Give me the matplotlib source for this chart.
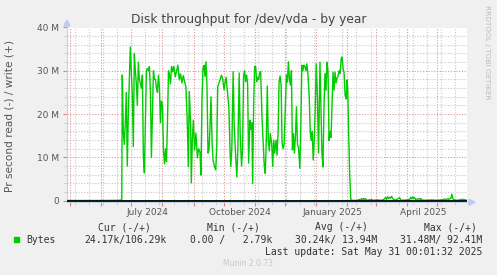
import numpy as np
import pandas as pd
import matplotlib
matplotlib.use('Agg')
import matplotlib.pyplot as plt
import matplotlib.dates as mdates
import matplotlib.ticker as mticker
from matplotlib.patches import Polygon, Rectangle

# days counted from 2024-05-01, values in MB/s
start = '2024-05-01'
write_days = [
    -3, 30, 50, 51.5,
    52, 53, 54, 55, 56, 57, 58, 60, 61, 62, 63, 64, 65, 66, 67, 68, 69, 70,
    71, 72, 73, 74, 75, 76, 77, 78, 79, 80, 81, 82, 83, 84, 85, 86, 87, 88,
    89, 90, 91, 92, 93, 94, 95, 96, 97, 98, 99, 100, 101,
    102, 103.3, 104.7, 106, 107.3, 108.7, 110, 111.3, 112.7, 114, 115.3,
    116.7, 117.7, 118.7, 120, 120.7, 121.7, 122.7, 124, 125.3, 126.7, 128,
    129.3, 130.3, 131.3, 132.3, 133.3, 134.3, 135.3, 136.3, 137.3, 138.3,
    139.3, 140.3, 141.3, 142.3, 143.7, 145, 146, 147, 148, 149.3, 150.7,
    152, 153.3, 154.3, 155.3, 156.7, 158, 159.3,
    160, 161, 162.3, 163.3, 165, 166, 167, 168.3, 169.3, 170.7, 171.7,
    172.7, 173.7, 174.7, 175.7, 176.7, 177.7, 179, 180, 181, 181.7, 182.7,
    183.7, 184.7, 185.7, 186.7, 187.7, 188.7, 189.7, 191, 192.3, 193.3,
    194.3, 195.3, 196.3, 197.3, 198.3, 199.3, 200.7, 201.7, 202.7, 203.7,
    205, 206, 207, 208, 209, 210, 211, 212, 213,
    214.3, 215.3, 216.3, 217.3, 218.3, 219.3, 220.3, 221.3, 222.3, 223.3,
    224.3, 225.3, 226.3, 227.3, 228.7, 229.7, 230.7, 231.7, 232.7, 233.7,
    234.7, 235.7, 236.7, 238, 239, 240, 241, 242, 243, 244, 245, 246,
    247.3, 248.7, 249.7, 250.7, 251.7, 252.7, 253.7, 254.7, 255.7, 256.7,
    257.7, 258.7, 259.7, 260.7, 261.7, 262.7, 263.7, 264.7, 265.7, 266.7,
    267.7, 268.7, 269.7,
    270, 270.7, 271.7, 272.7, 273.7, 274.7, 275.7, 276.3, 277.3, 278.3, 279.3,
    280, 285, 288, 289, 290, 291, 292, 293, 294, 295, 298, 300, 302, 305,
    310, 313, 314, 315, 316, 317, 318, 319, 320, 321, 322, 324, 328, 329,
    332, 338, 339, 340, 341, 342, 343, 344, 347, 348, 349, 350, 353, 360,
    365, 372, 373, 374, 376, 377, 379, 380, 381, 382, 385, 390, 392, 393, 395,
]
write_mb = [
    0.05, 0.05, 0.1, 0.3,
    29, 16, 13, 18, 25, 8, 20, 35.5, 30, 24, 12.5, 34, 30, 27, 22, 32, 28, 27,
    26, 29, 10, 6.4, 18, 30, 30.5, 30, 31, 25, 10, 20, 30, 28, 28, 26, 25, 29,
    26, 18, 23, 22, 11.7, 8.5, 12, 9, 18.6, 30, 29, 27, 31,
    29.8, 31, 28.6, 30, 31.3, 27.9, 29.3, 27.2, 28.9, 27.5, 26.3,
    17.9, 7.9, 25.2, 17.6, 4.1, 14, 18.6, 11.7, 15.6, 9.9, 12,
    11.2, 5.9, 23.3, 30.6, 31.3, 28.7, 32.1, 26.4, 11, 11.7,
    17.1, 24, 13.9, 9.4, 7.9, 7.1, 12.5, 26.3, 27, 28, 29,
    28, 25.6, 27.4, 28.5, 25, 21.7, 11,
    7.9, 12, 29.8, 18, 9.4, 5.5, 12, 29.5, 15.5, 8, 12,
    29, 30, 27.5, 29, 27, 8.7, 18.6, 16.5, 18, 4, 22,
    31, 31, 27.5, 28.5, 28, 29.5, 29.8, 19.4, 13.1, 8,
    6.3, 14, 26.5, 14, 11.5, 15.5, 13, 7.9, 14, 11,
    14, 10.5, 15.5, 27.5, 28.8, 26.8, 13.5, 12, 13,
    21.7, 29, 27.4, 32.1, 28, 26.7, 30, 11.7, 15.5, 11,
    15, 21.7, 13, 12.3, 7.5, 18, 31.3, 30, 31.3, 31,
    30, 31.6, 29.4, 24, 16, 13.9, 16, 9.4, 13.9, 21.7, 31.6, 25.5,
    11, 32, 21.7, 10.8, 7.8, 21.7, 29.4, 25.5, 32, 30,
    13.9, 16, 14.6, 22.5, 29.7, 25.5, 29.7, 27.2, 28.3, 28.7,
    30, 29.4, 32.4,
    32.9, 33.2, 30.6, 29.5, 24.4, 23.5, 27.9, 26, 15, 6, 0.5,
    0.1, 0.05, 0.3, 0.1, 0.5, 0.2, 0.5, 0.2, 0.5, 0.1, 0.2, 0.3, 0.1, 0.2,
    0.1, 0.4, 0.8, 0.3, 0.9, 0.5, 0.8, 0.6, 1.0, 0.5, 0.3, 0.1, 0.7, 0.2,
    0.1, 0.3, 0.8, 0.4, 0.9, 0.5, 0.7, 0.2, 0.5, 0.3, 0.5, 0.2, 0.1, 0.2,
    0.1, 0.3, 0.4, 0.2, 0.5, 0.3, 0.6, 1.5, 0.4, 0.2, 0.1, 0.3, 0.3, 0.2, 0.1,
]
read_days = [-3, 59, 60, 61, 107, 108, 109, 138, 139, 140, 163, 164, 165,
             197, 198, 199, 212, 213, 214, 234, 235, 236, 246, 247, 248,
             259, 260, 261, 339, 340, 341, 395]
read_mb = [0, 0, -0.4, 0, 0, -0.5, 0, 0, -0.3, 0, 0, -0.3, 0,
           0, -0.3, 0, 0, -0.3, 0, 0, -0.3, 0, 0, -0.3, 0,
           0, -0.3, 0, 0, -0.4, 0, 0]

y_ticks = [0, 10, 20, 30, 40]
y_labels = ['0', '10 M', '20 M', '30 M', '40 M']
month_labels = ['July 2024', 'October 2024', 'January 2025', 'April 2025']
label_dates = ['2024-07-17', '2024-10-17', '2025-01-17', '2025-04-17']
legend_heads = ['Cur (-/+)', 'Min (-/+)', 'Avg (-/+)', 'Max (-/+)']
legend_vals = ['24.17k/106.29k', '0.00 /   2.79k', '30.24k/ 13.94M', '31.48M/ 92.41M']

W, H = 497, 275
GREEN = '#00CC00'
TXT = '#555555'


def fx(px):
    return px / W


def fy(py):
    return 1 - py / H


fig = plt.figure(figsize=(W / 100, H / 100), dpi=100, facecolor='#F0F0F0')
ax = fig.add_axes([fx(67), fy(202), 400 / W, (202 - 27.5) / H])
ax.set_facecolor('white')

t0 = mdates.datestr2num(start)
ax.plot(t0 + np.array(write_days), write_mb, color=GREEN, lw=1.0, zorder=3)
ax.plot(t0 + np.array(read_days), read_mb, color=GREEN, lw=1.0, zorder=3)
ax.axhline(0, color='black', lw=1.2, zorder=4)

ax.set_xlim(mdates.datestr2num('2024-04-28'), mdates.datestr2num('2025-05-31'))
ax.set_ylim(-0.3, 40)

# grid: months red, two-week steps grey
ax.xaxis.set_major_locator(mdates.MonthLocator())
minor_dates = pd.date_range('2024-04-22', '2025-06-01', freq='14D')
ax.xaxis.set_minor_locator(mticker.FixedLocator(mdates.date2num(minor_dates.to_pydatetime())))
ax.yaxis.set_major_locator(mticker.FixedLocator(y_ticks))
ax.yaxis.set_minor_locator(mticker.MultipleLocator(2))
ax.set_yticklabels(y_labels)
ax.grid(which='major', color='#E49696', linestyle=(0, (1, 1.5)), lw=0.8, zorder=1)
ax.grid(which='minor', color='#C8C8C8', linestyle=(0, (1, 1.5)), lw=0.8, zorder=0)

ax.tick_params(axis='x', which='major', length=3, color='#E08080', labelbottom=False)
ax.tick_params(axis='x', which='minor', length=2, color='#C8C8C8')
ax.tick_params(axis='y', which='major', length=3, color='#E08080',
               labelsize=6.5, labelcolor=TXT, pad=3)
ax.tick_params(axis='y', which='minor', length=2, color='#C8C8C8')
for side in ['top', 'right']:
    ax.spines[side].set_visible(False)
for side in ['left', 'bottom']:
    ax.spines[side].set_color('#C8CCF0')
    ax.spines[side].set_linewidth(0.8)

for lab, d in zip(month_labels, label_dates):
    ax.text(mdates.datestr2num(d), fy(212.5), lab, ha='center', va='center',
            fontsize=6.5, color=TXT,
            transform=matplotlib.transforms.blended_transform_factory(ax.transData, fig.transFigure))

# axis arrows
arrow_col = '#C0C8F8'
fig.patches.append(Polygon([(fx(67), fy(20)), (fx(64), fy(26)), (fx(70), fy(26))],
                           closed=True, color=arrow_col, transform=fig.transFigure))
fig.patches.append(Polygon([(fx(475), fy(202.3)), (fx(469), fy(199.3)), (fx(469), fy(205.3))],
                           closed=True, color=arrow_col, transform=fig.transFigure))

fig.text(fx(248.5), fy(19), 'Disk throughput for /dev/vda - by year', ha='center', va='center',
         fontsize=8.8, color='#444444')
fig.text(fx(10), fy(116), 'Pr second read (-) / write (+)', rotation=90, ha='center',
         va='center', fontsize=7.6, color=TXT)
fig.text(fx(487), fy(5), 'RRDTOOL / TOBI OETIKER', rotation=270, ha='center', va='top',
         fontsize=5.3, color='#BBBBBB')

# legend block
mono = 'DejaVu Sans Mono'
head_right = [151, 260, 368.3, 476.7]
val_right = [166.7, 272.7, 377.7, 482.7]
for txt, xr in zip(legend_heads, head_right):
    fig.text(fx(xr), fy(227.5), txt, ha='right', va='center', family=mono, fontsize=7, color='#333333')
fig.patches.append(Rectangle((fx(14), fy(242)), 5 / W, 5 / H, color=GREEN, transform=fig.transFigure))
fig.text(fx(26), fy(240), 'Bytes', ha='left', va='center', family=mono, fontsize=7, color='#333333')
for txt, xr in zip(legend_vals, val_right):
    fig.text(fx(xr), fy(240), txt, ha='right', va='center', family=mono, fontsize=7, color='#333333')
fig.text(fx(482.7), fy(251.7), 'Last update: Sat May 31 00:01:32 2025', ha='right', va='center',
         family=mono, fontsize=7, color='#333333')
fig.text(fx(248), fy(264), 'Munin 2.0.73', ha='center', va='center', fontsize=5.5, color='#C8C8C8')

fig.savefig('out.png', dpi=100, facecolor=fig.get_facecolor())
